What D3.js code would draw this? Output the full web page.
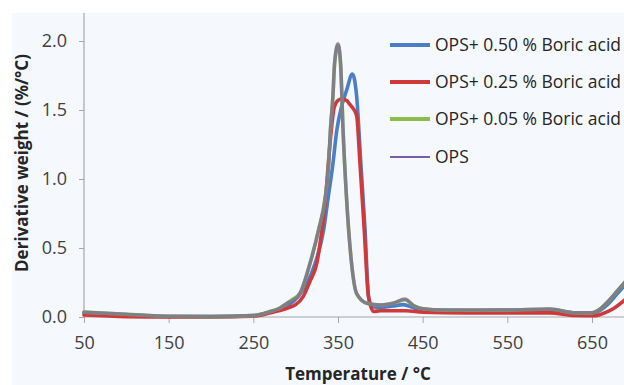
<!DOCTYPE html>
<html>
<head>
<meta charset="utf-8">
<script src="https://cdn.jsdelivr.net/npm/d3@7"></script>
<style>
html,body{margin:0;padding:0;background:#fff;overflow:hidden;}
svg{display:block;font-family:"Open Sans",sans-serif;}
</style>
</head>
<body>
<svg id="chart" width="624" height="385"></svg>
<script>
// ---- data ----
const seriesNames = ["OPS+ 0.50 % Boric acid", "OPS+ 0.25 % Boric acid", "OPS+ 0.05 % Boric acid", "OPS"];
const xTicks = [50, 150, 250, 350, 450, 550, 650];
const yTicks = [0.0, 0.5, 1.0, 1.5, 2.0];

const blueT = [50, 100, 150, 200, 250, 270, 280, 290, 303, 313, 323, 333, 338.5, 344, 348.5, 354, 360, 367, 372, 377, 382, 386, 390, 400, 415, 427, 440, 460, 500, 550, 600, 630, 650, 660, 670, 680, 690];
const blueV = [0.03, 0.015, 0.004, 0.003, 0.01, 0.035, 0.05, 0.08, 0.15, 0.24, 0.39, 0.63, 0.87, 1.11, 1.35, 1.52, 1.64, 1.76, 1.60, 1.11, 0.63, 0.15, 0.075, 0.07, 0.08, 0.09, 0.065, 0.05, 0.045, 0.05, 0.05, 0.03, 0.025, 0.05, 0.1, 0.17, 0.24];

const redT = [50, 100, 150, 200, 250, 270, 280, 293, 300, 309, 317, 325, 331, 335.5, 338.5, 342, 345.5, 350, 354, 360, 364, 368, 372, 376, 381, 386, 392, 400, 430, 450, 500, 550, 600, 630, 655, 665, 675, 690];
const redV = [0.015, 0.003, 0.0, 0.0, 0.005, 0.03, 0.045, 0.07, 0.09, 0.15, 0.26, 0.39, 0.63, 0.87, 1.11, 1.35, 1.52, 1.57, 1.58, 1.57, 1.54, 1.51, 1.46, 1.11, 0.63, 0.15, 0.04, 0.045, 0.045, 0.035, 0.03, 0.03, 0.03, 0.012, 0.01, 0.03, 0.06, 0.13];

const greenT = [50, 100, 150, 200, 250, 270, 280, 290, 297, 305, 317, 327, 335, 339, 341, 344, 346, 350, 353, 356, 360, 366, 372, 384, 400, 415, 429, 440, 450, 475, 500, 550, 600, 630, 650, 660, 670, 680, 690];
const greenV = [0.035, 0.02, 0.005, 0.003, 0.01, 0.04, 0.06, 0.1, 0.13, 0.17, 0.39, 0.63, 0.87, 1.11, 1.35, 1.6, 1.84, 1.97, 1.84, 1.35, 0.87, 0.39, 0.17, 0.10, 0.087, 0.10, 0.125, 0.08, 0.06, 0.05, 0.05, 0.05, 0.058, 0.03, 0.03, 0.06, 0.12, 0.19, 0.26];

const opsT = [50, 100, 150, 200, 250, 270, 280, 290, 297, 305, 317, 327, 335, 339, 341, 344, 346, 350, 353, 356, 360, 366, 372, 384, 400, 415, 429, 440, 450, 475, 500, 550, 600, 630, 650, 660, 670, 680, 690];
const opsV = [0.035, 0.02, 0.005, 0.003, 0.01, 0.04, 0.06, 0.1, 0.12, 0.17, 0.39, 0.63, 0.87, 1.11, 1.35, 1.6, 1.84, 1.98, 1.84, 1.35, 0.87, 0.39, 0.17, 0.10, 0.087, 0.10, 0.13, 0.08, 0.06, 0.05, 0.05, 0.05, 0.058, 0.03, 0.03, 0.06, 0.12, 0.19, 0.26];

const colors = ["#4a7ec6", "#d0393a", "#8dbb4e", "#7a5ca8"];

// ---- build ----
const svg = d3.select("#chart");
const W = 624, H = 385;

// plot area background
svg.append("rect").attr("x", 12).attr("y", 13).attr("width", W - 12).attr("height", H - 13).attr("fill", "#f5f9fd");

const x = d3.scaleLinear().domain([50, 650]).range([84, 592]);
const y = d3.scaleLinear().domain([0, 2]).range([317, 41]);

// axes
const xAxis = svg.append("g").attr("transform", `translate(0,${y(0)})`)
  .call(d3.axisBottom(x).tickValues(xTicks).tickSize(6).tickSizeOuter(0).tickPadding(13).tickFormat(d3.format("d")));
xAxis.select(".domain").remove();
svg.append("line").attr("x1", x(50)).attr("x2", W).attr("y1", y(0)).attr("y2", y(0)).attr("stroke", "#a6a6a6").attr("stroke-width", 1.2);

const yAxis = svg.append("g").attr("transform", `translate(${x(50)},0)`)
  .call(d3.axisLeft(y).tickValues(yTicks).tickSize(5).tickSizeOuter(0).tickPadding(12).tickFormat(d3.format(".1f")));
yAxis.select(".domain").remove();
svg.append("line").attr("x1", x(50)).attr("x2", x(50)).attr("y1", 13).attr("y2", y(0)).attr("stroke", "#a6a6a6").attr("stroke-width", 1.2);

svg.selectAll(".tick line").attr("stroke", "#a6a6a6");
svg.selectAll(".tick text").attr("fill", "#404040").style("font-size", "18px").style("font-family", "'Open Sans', sans-serif");
xAxis.selectAll(".tick text").attr("dy", "0.71em");

// axis titles
svg.append("text").attr("x", 358).attr("y", 380).attr("text-anchor", "middle")
  .style("font-size", "17px").style("font-weight", "bold").attr("fill", "#262626")
  .text("Temperature / °C");
svg.append("text").attr("transform", `translate(28,163) rotate(-90)`).attr("text-anchor", "middle")
  .style("font-size", "17px").style("font-weight", "bold").attr("fill", "#262626")
  .text("Derivative weight / (%/°C)");

// lines
const line = d3.line().x(d => x(d[0])).y(d => y(d[1])).curve(d3.curveMonotoneX);
const series = [
  {T: blueT, V: blueV, c: colors[0], w: 3.6, o: 1},
  {T: redT, V: redV, c: colors[1], w: 3.6, o: 1},
  {T: greenT, V: greenV, c: colors[2], w: 3.6, o: 1},
  {T: opsT, V: opsV, c: colors[3], w: 3.5, o: 0.63}
];
series.forEach(s => {
  const pts = s.T.map((t, i) => [t, s.V[i]]);
  svg.append("path").datum(pts).attr("d", line).attr("fill", "none")
    .attr("stroke", s.c).attr("stroke-width", s.w).attr("stroke-opacity", s.o)
    .attr("stroke-linejoin", "round").attr("stroke-linecap", "round");
});

// legend
const legY = [45, 82, 119, 157];
const legW = [4, 4, 4, 2];
seriesNames.forEach((n, i) => {
  svg.append("line").attr("x1", 390).attr("x2", 430).attr("y1", legY[i]).attr("y2", legY[i])
    .attr("stroke", colors[i]).attr("stroke-width", legW[i]);
  svg.append("text").attr("x", 435).attr("y", legY[i]).attr("dy", "0.35em")
    .style("font-size", "17.5px").attr("fill", "#262626").text(n);
});
</script>
</body>
</html>
